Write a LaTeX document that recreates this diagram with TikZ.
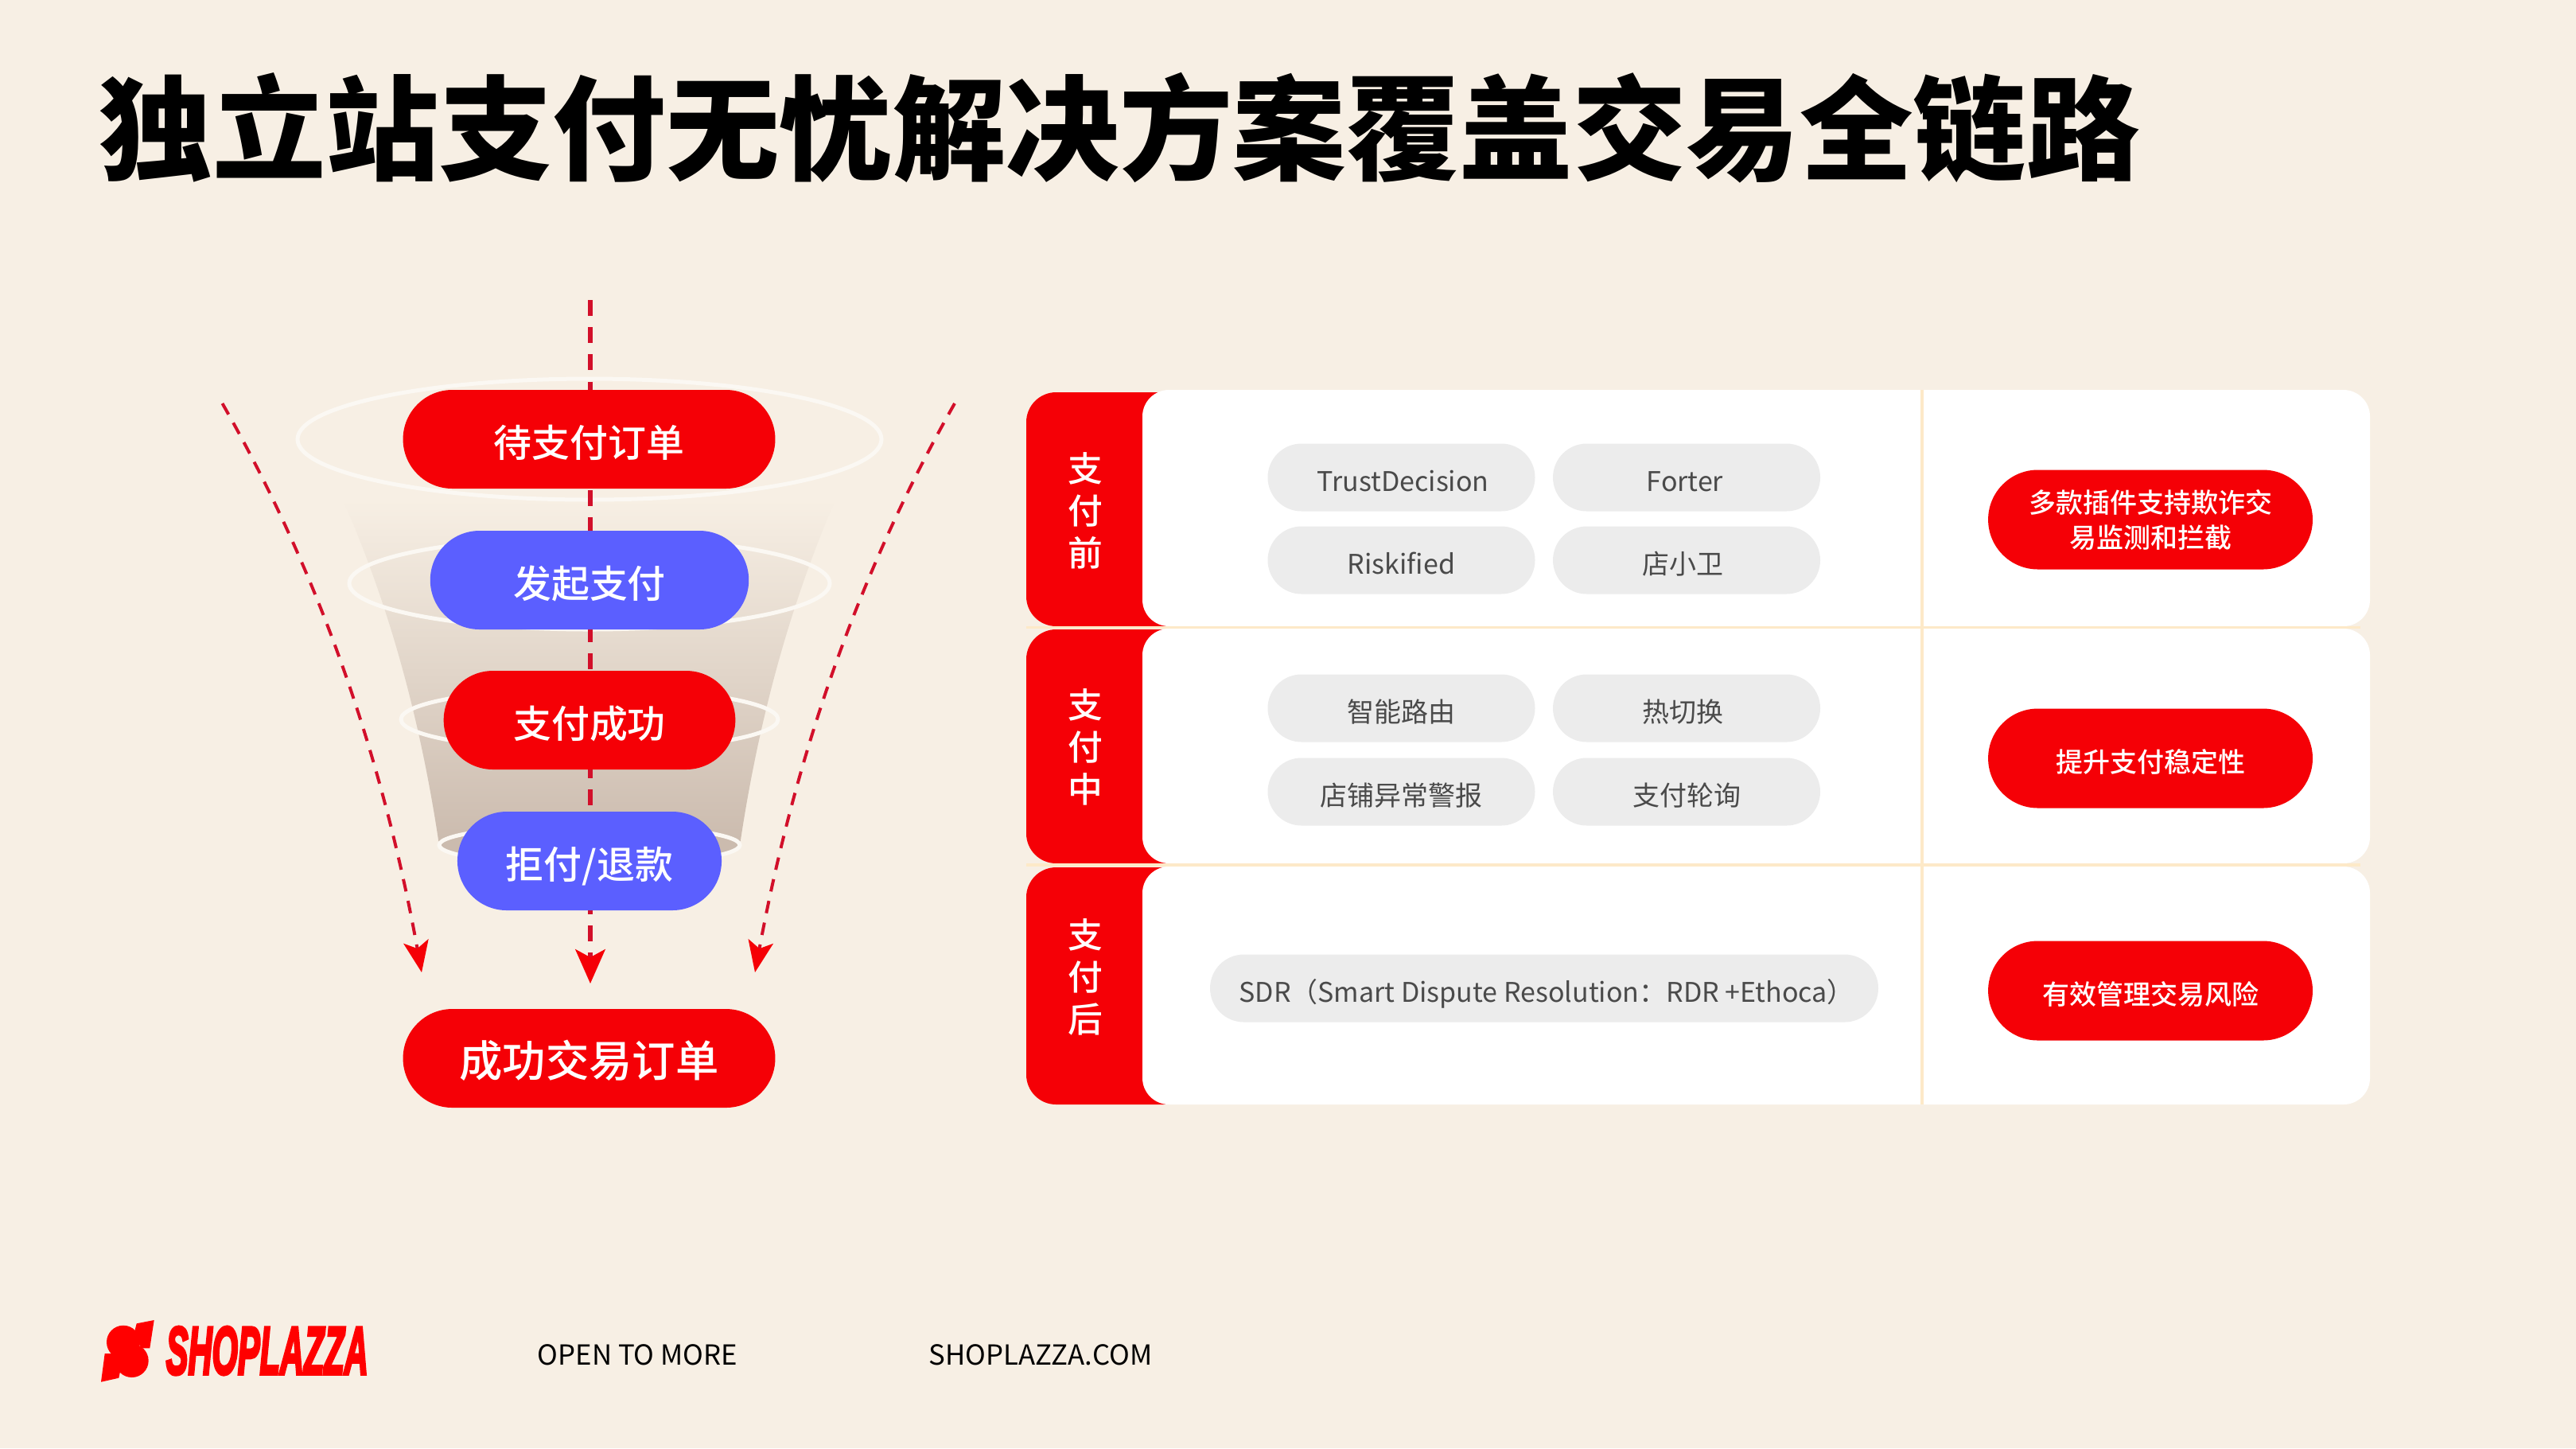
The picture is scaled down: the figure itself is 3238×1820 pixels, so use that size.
\documentclass[tikz,border=0pt]{standalone}
\usepackage{fontspec}
\setmainfont{Noto Sans CJK SC}
\newfontfamily\titlefont{Noto Sans CJK SC Black}
\newfontfamily\medfont{Noto Sans CJK SC Medium}
\newfontfamily\logofont[FakeBold=5]{Liberation Sans Bold Italic}
\usetikzlibrary{arrows.meta}
\definecolor{bgc}{HTML}{F7EFE4}
\definecolor{redc}{HTML}{F50006}
\definecolor{bluec}{HTML}{5B5FFF}
\definecolor{linec}{HTML}{D20F2A}
\definecolor{grayc}{HTML}{ECECEC}
\definecolor{sepc}{HTML}{FDE9C8}
\definecolor{txtc}{HTML}{4A4A4A}
\definecolor{ringc}{HTML}{FBF8F3}
\definecolor{funnelc}{HTML}{CBBBAE}
\definecolor{funnelm}{HTML}{E6DDD0}
\definecolor{logoc}{HTML}{FF0000}
\tikzset{
  x=0.24pt,y=-0.24pt,
  pillbase/.style={rectangle,inner sep=0pt,align=center},
  bigpill/.style={pillbase,fill=#1,text=white,minimum height=29.76pt,rounded corners=14.88pt,text height=10.7pt,text depth=0pt,font=\fontsize{11.5}{13}\medfont},
  graypill/.style={pillbase,fill=grayc,text=txtc,minimum width=80.64pt,minimum height=20.4pt,rounded corners=10.2pt,text height=8.2pt,text depth=0pt,font=\fontsize{8.16}{10}\selectfont},
  sidepill/.style={pillbase,fill=redc,text=white,minimum width=97.9pt,minimum height=30pt,rounded corners=15pt,font=\fontsize{8.16}{10.56}\medfont},
  tabtext/.style={align=center,text=white,inner sep=0pt,font=\fontsize{10.5}{12.72}\medfont},
  ring/.style={draw=ringc,line width=1.2pt},
  flow/.style={draw=linec,line width=1.25pt,dash pattern=on 4.8pt off 3.4pt,-{Stealth[color=redc,length=10.3pt,width=9pt,inset=2.4pt]}},
  sideflow/.style={draw=linec,line width=0.95pt,dash pattern=on 3.8pt off 2.9pt,-{Stealth[color=redc,length=9.5pt,width=7.6pt,inset=2.2pt]}},
  plain/.style={text=black,inner sep=0pt,font=\fontsize{8.34}{10}\selectfont},
}
\begin{document}
\begin{tikzpicture}
\useasboundingbox[fill=bgc] (0,0) rectangle (3238,1820);
% title
\node[anchor=west,inner sep=0pt,text=black,font=\fontsize{34.2}{40}\titlefont] (title) at (124,161) {独立站支付无忧解决方案覆盖交易全链路};
% funnel
\shade[top color=bgc,middle color=funnelm,bottom color=funnelc]
  (431,628) .. controls (480,740) and (525,880) .. (552,1062)
  -- (930,1062) .. controls (957,880) and (1002,740) .. (1050,628) -- cycle;
\draw[ring] (741,552) ellipse (367 and 76);
\draw[ring] (741,733) ellipse (302 and 58);
\draw[ring] (741,904) ellipse (237 and 39);
\draw[ring,fill=funnelc] (741,1062) ellipse (189 and 25);
% flow lines
\coordinate (ctop) at (742,377);
\coordinate (ctip) at (742,1236);
\coordinate (ltop) at (279.5,507);
\coordinate (ltip) at (530,1222);
\coordinate (rtop) at (1200,507);
\coordinate (rtip) at (949,1222);
\draw[flow] (ctop) -- (ctip);
\draw[sideflow] (ltop) .. controls (415,744) and (487,985) .. (ltip);
\draw[sideflow] (rtop) .. controls (1065,744) and (993,985) .. (rtip);
% funnel pills
\node[bigpill=redc,minimum width=112.3pt] (p1) at (740.5,552) {待支付订单};
\node[bigpill=bluec,minimum width=96.1pt] (p2) at (741,729) {发起支付};
\node[bigpill=redc,minimum width=88pt] (p3) at (741,905) {支付成功};
\node[bigpill=bluec,minimum width=79.7pt] (p4) at (741,1082) {拒付/退款};
\node[bigpill=redc,minimum width=112.3pt,text height=11.5pt,font=\fontsize{13.05}{15}\medfont] (p5) at (740.5,1330) {成功交易订单};
% table tabs
\fill[redc,rounded corners=9pt] (1290,493) rectangle (1500,787);
\fill[redc,rounded corners=9pt] (1290,791) rectangle (1500,1085);
\fill[redc,rounded corners=9pt] (1290,1090) rectangle (1500,1388);
\fill[white,rounded corners=8pt] (1436,490) rectangle (2979,787);
\fill[white,rounded corners=8pt] (1436,790) rectangle (2979,1085);
\fill[white,rounded corners=8pt] (1436,1089) rectangle (2979,1388);
\draw[sepc,line width=0.8pt] (1290,788.5) -- (2967,788.5);
\draw[sepc,line width=0.8pt] (1290,1087) -- (2967,1087);
\draw[sepc,line width=0.8pt] (2416,490) -- (2416,1388);
\node[tabtext] (t1) at (1364.6,642) {支\\付\\前};
\node[tabtext] (t2) at (1364.6,939) {支\\付\\中};
\node[tabtext] (t3) at (1364.6,1228) {支\\付\\后};
% gray pills
\node[graypill] (g1) at (1761.5,600) {\hspace{1pt}TrustDecision};
\node[graypill] (g2) at (2120,600) {Forter\hspace{1pt}};
\node[graypill] (g3) at (1761.5,704) {Riskified};
\node[graypill] (g4) at (2120,704) {店小卫\hspace{2pt}};
\node[graypill] (g5) at (1761.5,890) {智能路由};
\node[graypill] (g6) at (2120,890) {热切换\hspace{2pt}};
\node[graypill] (g7) at (1761.5,995) {店铺异常警报};
\node[graypill] (g8) at (2120,995) {支付轮询};
\node[graypill,minimum width=201.6pt] (g9) at (1941,1242) {\hspace{1.5pt}SDR（Smart Dispute Resolution：RDR +Ethoca）};
% side pills
\node[sidepill] (s1) at (2703,653) {多款插件支持欺诈交\\易监测和拦截};
\node[sidepill,text height=8.2pt,text depth=0pt] (s2) at (2703,953) {提升支付稳定性};
\node[sidepill,text height=8.2pt,text depth=0pt] (s3) at (2703,1245) {有效管理交易风险};
% logo
\fill[logoc] (155,1686.7) circle (21);
\fill[logoc] (165.7,1710) circle (21);
\fill[logoc] (171.7,1663.3) -- (193.7,1659) -- (188.3,1694.3) -- (178,1694.3) -- (168,1678.3) -- cycle;
\fill[logoc] (131.7,1701) -- (143.3,1701) -- (153.3,1713.3) -- (149.3,1731.7) -- (127,1736.7) -- cycle;
\node[inner sep=0pt,anchor=west,text=logoc] (logo) at (208,1697.5) {\resizebox{60.96pt}{14.2pt}{\logofont SHOPLAZZA}};
% footer
\node[plain,anchor=west] (f1) at (675,1703) {OPEN TO MORE};
\node[plain,anchor=west] (f2) at (1167,1703) {SHOPLAZZA.COM};
\end{tikzpicture}
\end{document}
